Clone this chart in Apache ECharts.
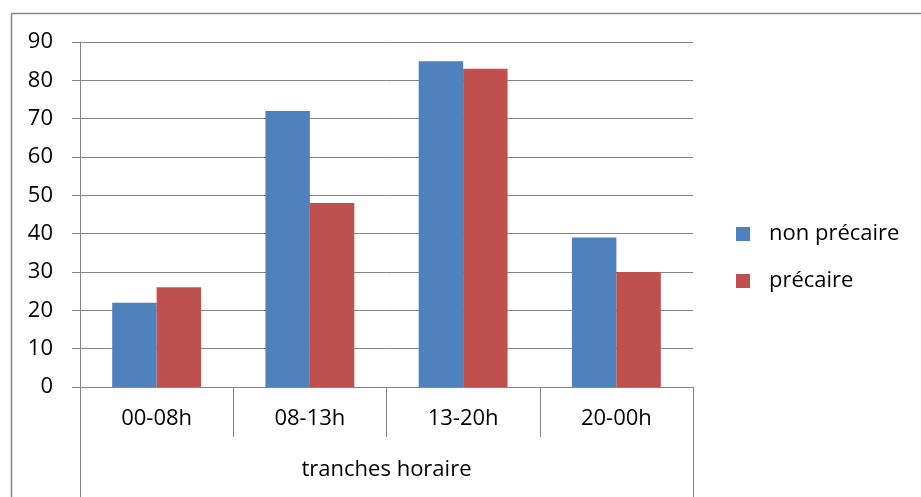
<!DOCTYPE html>
<html>
<head>
<meta charset="utf-8">
<script src="https://cdn.jsdelivr.net/npm/echarts@6/dist/echarts.min.js"></script>
<style>
  html, body { margin: 0; padding: 0; background: #fff; }
  #chart { width: 921px; height: 497px; }
</style>
</head>
<body>
<div id="chart"></div>
<script>
// données
const categories = ['00-08h', '08-13h', '13-20h', '20-00h'];
const groupLabel = ['tranches horaire'];
const nonPrecaire = [22, 72, 85, 39];
const precaire = [26, 48, 83, 30];

const gray = '#868686';
const font = 'Open Sans';
const fs = 22;

let myChart = echarts.init(document.getElementById('chart'));
myChart.setOption({
  animation: false,
  textStyle: { fontFamily: font },
  graphic: [{
    type: 'line',
    shape: { x1: 11.5, y1: 13.5, x2: 11.5, y2: 497 },
    style: { stroke: gray, lineWidth: 1.5 },
    z: 100,
    silent: true
  }, {
    type: 'line',
    shape: { x1: 11.5, y1: 13.5, x2: 921, y2: 13.5 },
    style: { stroke: gray, lineWidth: 1.5 },
    z: 100,
    silent: true
  }],
  grid: { left: 80, right: 228, top: 42, bottom: 110 },
  legend: {
    orient: 'vertical',
    left: 736,
    top: 223,
    padding: 0,
    itemWidth: 14,
    itemHeight: 14,
    itemGap: 25,
    icon: 'rect',
    textStyle: { fontSize: fs, color: '#000', fontFamily: font, padding: [0, 0, 0, 14] },
    data: ['non précaire', 'précaire']
  },
  xAxis: [{
    type: 'category',
    data: categories,
    position: 'bottom',
    axisLine: { show: true, lineStyle: { color: gray, width: 1 } },
    axisTick: { show: true, length: 50, interval: 0, lineStyle: { color: gray, width: 1 } },
    axisLabel: { fontSize: fs, color: '#000', margin: 21, interval: 0 },
    splitLine: { show: false }
  }, {
    type: 'category',
    data: groupLabel,
    position: 'bottom',
    axisLine: { show: false },
    axisTick: { show: true, length: 112, lineStyle: { color: gray, width: 1 } },
    axisLabel: { fontSize: fs, color: '#000', margin: 72 },
    splitLine: { show: false }
  }],
  yAxis: {
    type: 'value',
    min: 0,
    max: 90,
    interval: 10,
    axisLine: { show: true, lineStyle: { color: gray, width: 1 } },
    axisTick: { show: true, length: 8, lineStyle: { color: gray } },
    axisLabel: { fontSize: fs, color: '#000', margin: 27 },
    splitLine: { show: true, lineStyle: { color: gray, width: 1 } }
  },
  series: [{
    name: 'non précaire',
    type: 'bar',
    xAxisIndex: 0,
    data: nonPrecaire,
    itemStyle: { color: '#4F81BD' },
    barGap: '0%',
    barCategoryGap: '42%'
  }, {
    name: 'précaire',
    type: 'bar',
    xAxisIndex: 0,
    data: precaire,
    itemStyle: { color: '#C0504D' },
    barGap: '0%',
    barCategoryGap: '42%'
  }]
});
</script>
</body>
</html>
